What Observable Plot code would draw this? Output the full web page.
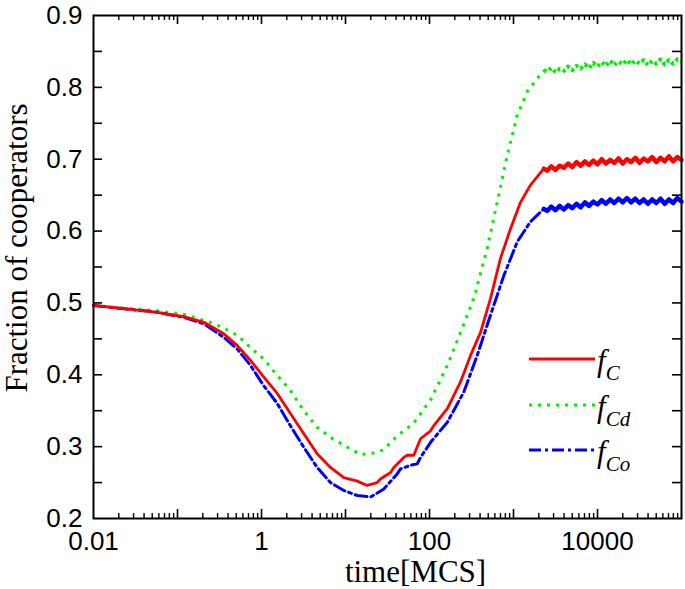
<!DOCTYPE html>
<html>
<head>
<meta charset="utf-8">
<script src="https://cdn.jsdelivr.net/npm/d3@7"></script>
<script src="https://cdn.jsdelivr.net/npm/@observablehq/plot@0.6"></script>
<style>
  html, body { margin: 0; padding: 0; background: #fff; }
  #wrap { position: relative; width: 685px; height: 589px; overflow: hidden; }
  #legend { position: absolute; left: 0; top: 0; pointer-events: none; }
</style>
</head>
<body>
<div id="wrap"></div>
<script>
// ---- data ----
// early parts of each series (time in MCS, fraction)
const tC  = [0.01, 0.0229, 0.0575, 0.119, 0.206, 0.356, 0.514, 0.74, 1.06, 1.54, 2.21, 3.19, 4.6, 6.62, 9.55, 13.8, 18.1, 23.8, 26.1, 34.4, 37.6, 49.4, 54.3, 65, 78.2, 103, 112, 163, 234, 308, 405, 532, 700, 920, 1211, 1592, 2296];
const fC  = [0.4965, 0.492, 0.487, 0.481, 0.473, 0.457, 0.441, 0.420, 0.397, 0.374, 0.346, 0.318, 0.290, 0.271, 0.257, 0.252, 0.246, 0.250, 0.255, 0.264, 0.271, 0.285, 0.288, 0.288, 0.311, 0.322, 0.329, 0.353, 0.390, 0.427, 0.459, 0.506, 0.562, 0.603, 0.640, 0.664, 0.687];

const tCd = [0.01, 0.0575, 0.119, 0.247, 0.356, 0.514, 0.74, 1.06, 1.54, 2.21, 3.19, 4.6, 6.62, 9.55, 15.1, 21.7, 28.6, 41.2, 65, 103, 163, 234, 337, 486, 640, 841, 1107, 1455, 2296];
const fCd = [0.4965, 0.489, 0.484, 0.473, 0.465, 0.455, 0.438, 0.422, 0.399, 0.378, 0.350, 0.327, 0.313, 0.302, 0.289, 0.291, 0.296, 0.315, 0.333, 0.365, 0.413, 0.459, 0.506, 0.576, 0.640, 0.705, 0.761, 0.794, 0.824];

const tCo = [0.01, 0.0229, 0.0575, 0.119, 0.206, 0.356, 0.514, 0.74, 1.06, 1.54, 2.21, 3.19, 4.6, 6.62, 9.55, 13.8, 19.9, 28.6, 41.2, 45.2, 59.4, 71.4, 78.2, 103, 163, 256, 370, 532, 767, 1107, 1592, 2296];
const fCo = [0.4965, 0.492, 0.487, 0.480, 0.471, 0.452, 0.436, 0.413, 0.385, 0.360, 0.329, 0.299, 0.271, 0.250, 0.239, 0.232, 0.230, 0.241, 0.262, 0.269, 0.274, 0.276, 0.285, 0.306, 0.334, 0.376, 0.427, 0.483, 0.538, 0.585, 0.613, 0.631];

// late (noisy plateau) parts, shared time grid
const tLate = [2512, 2818, 3162, 3548, 3981, 4467, 5012, 5623, 6310, 7079, 7943, 8913, 10000, 11220, 12589, 14125, 15849, 17783, 19953, 22387, 25119, 28184, 31623, 35481, 39811, 44668, 50119, 56234, 63096, 70795, 79433, 89125, 100000];
const fCLate  = [0.684, 0.690, 0.685, 0.691, 0.688, 0.694, 0.689, 0.696, 0.691, 0.697, 0.692, 0.698, 0.693, 0.700, 0.694, 0.699, 0.695, 0.701, 0.694, 0.700, 0.696, 0.702, 0.695, 0.701, 0.697, 0.703, 0.696, 0.702, 0.697, 0.704, 0.697, 0.703, 0.699];
const fCdLate = [0.822, 0.827, 0.821, 0.826, 0.823, 0.829, 0.824, 0.830, 0.826, 0.832, 0.827, 0.834, 0.829, 0.835, 0.830, 0.837, 0.831, 0.836, 0.832, 0.838, 0.832, 0.837, 0.833, 0.838, 0.831, 0.837, 0.833, 0.839, 0.832, 0.838, 0.833, 0.839, 0.836];
const fCoLate = [0.628, 0.634, 0.629, 0.635, 0.630, 0.636, 0.632, 0.638, 0.633, 0.640, 0.635, 0.641, 0.637, 0.643, 0.638, 0.644, 0.639, 0.645, 0.640, 0.646, 0.640, 0.645, 0.639, 0.644, 0.638, 0.644, 0.639, 0.645, 0.638, 0.644, 0.639, 0.646, 0.641];

// axis ticks
const xLabelTicks = [0.01, 1, 100, 10000];
const xLabelText = ["0.01", "1", "100", "10000"];
const yLabelTicks = [0.2, 0.3, 0.4, 0.5, 0.6, 0.7, 0.8, 0.9];
const yTickMarks = [0.25, 0.3, 0.35, 0.4, 0.45, 0.5, 0.55, 0.6, 0.65, 0.7, 0.75, 0.8, 0.85];
const xMajor = [0.1, 1, 10, 100, 1000, 10000];
const xMinorMult = [2, 3, 4, 5, 6, 7, 8, 9];
const decades = [0.01, 0.1, 1, 10, 100, 1000, 10000];

// legend
const seriesNames = ["C", "Cd", "Co"];
const seriesColors = ["#ff0000", "#00ee00", "#0000ff"];
const seriesDash = [null, "3 6", "12 4 3 4"];

// ---- build tables ----
const mk = (ts, vs) => ts.map((t, i) => ({t, v: vs[i]}));
const earlyC = mk(tC, fC), earlyCd = mk(tCd, fCd), earlyCo = mk(tCo, fCo);
// plateau parts start from the last early point so the lines join
const lateC  = [earlyC[earlyC.length - 1]].concat(mk(tLate, fCLate));
const lateCd = [earlyCd[earlyCd.length - 1]].concat(mk(tLate, fCdLate));
const lateCo = [earlyCo[earlyCo.length - 1]].concat(mk(tLate, fCoLate));
const xMinor = decades.flatMap(d => xMinorMult.map(m => d * m));

const W = 685, H = 589;
const mL = 93, mR = 4, mT = 15, mB = 71;
const fw = W - mL - mR, fh = H - mT - mB;

const chart = Plot.plot({
  width: W, height: H,
  marginLeft: mL, marginRight: mR, marginTop: mT, marginBottom: mB,
  x: {type: "log", domain: [0.01, 100000]},
  y: {domain: [0.2, 0.9]},
  style: {fontFamily: "'Liberation Sans', Arial, sans-serif", fontSize: "26px", background: "#fff", color: "#000"},
  marks: [
    Plot.axisX({ticks: xLabelTicks, tickSize: 0, tickPadding: 13, label: null,
      tickFormat: d => xLabelText[xLabelTicks.indexOf(d)], fontSize: 26}),
    Plot.axisY({ticks: yLabelTicks, tickSize: 0, tickPadding: 11, label: null,
      tickFormat: d => d.toFixed(1), fontSize: 26}),
    // inward ticks
    Plot.tickX(xMajor, {x: d => d, insetTop: fh - 9, stroke: "#000", strokeWidth: 1.6}),
    Plot.tickX(xMajor, {x: d => d, insetBottom: fh - 9, stroke: "#000", strokeWidth: 1.6}),
    Plot.tickX(xMinor, {x: d => d, insetTop: fh - 5, stroke: "#000", strokeWidth: 1.4}),
    Plot.tickX(xMinor, {x: d => d, insetBottom: fh - 5, stroke: "#000", strokeWidth: 1.4}),
    Plot.tickY(yTickMarks, {y: d => d, insetRight: fw - 9, stroke: "#000", strokeWidth: 1.6}),
    Plot.tickY(yTickMarks, {y: d => d, insetLeft: fw - 9, stroke: "#000", strokeWidth: 1.6}),
    // series
    Plot.line(earlyCd, {x: "t", y: "v", stroke: seriesColors[1], strokeWidth: 3, strokeDasharray: seriesDash[1], strokeLinecap: "butt"}),
    Plot.line(lateCd,  {x: "t", y: "v", stroke: seriesColors[1], strokeWidth: 4, strokeDasharray: "3 3", strokeLinecap: "butt"}),
    Plot.line(earlyCo, {x: "t", y: "v", stroke: seriesColors[2], strokeWidth: 3, strokeDasharray: seriesDash[2]}),
    Plot.line(lateCo,  {x: "t", y: "v", stroke: seriesColors[2], strokeWidth: 4.5}),
    Plot.line(earlyC,  {x: "t", y: "v", stroke: seriesColors[0], strokeWidth: 2.8}),
    Plot.line(lateC,   {x: "t", y: "v", stroke: seriesColors[0], strokeWidth: 4.5}),
    Plot.frame({stroke: "#000", strokeWidth: 2}),
    // axis titles
    Plot.text(["time[MCS]"], {frameAnchor: "bottom", dx: 28, dy: 54, lineAnchor: "middle", textAnchor: "middle",
      fontFamily: "'Liberation Serif', 'Times New Roman', serif", fontSize: 31, fill: "#000"}),
    Plot.text(["Fraction of cooperators"], {frameAnchor: "left", dx: -76, dy: -19, rotate: -90, lineAnchor: "middle", textAnchor: "middle",
      fontFamily: "'Liberation Serif', 'Times New Roman', serif", fontSize: 31, fill: "#000"})
  ]
});

const wrap = document.getElementById("wrap");
wrap.appendChild(chart);

// legend overlay
const ns = "http://www.w3.org/2000/svg";
const lg = document.createElementNS(ns, "svg");
lg.setAttribute("id", "legend");
lg.setAttribute("width", W);
lg.setAttribute("height", H);
const rowY = [359, 405, 450];
seriesNames.forEach((name, i) => {
  const y = rowY[i];
  const line = document.createElementNS(ns, "line");
  line.setAttribute("x1", 529); line.setAttribute("x2", 595);
  line.setAttribute("y1", y); line.setAttribute("y2", y);
  line.setAttribute("stroke", seriesColors[i]);
  line.setAttribute("stroke-width", i === 0 ? 2.8 : 3);
  if (seriesDash[i]) line.setAttribute("stroke-dasharray", seriesDash[i]);
  lg.appendChild(line);
  const tx = document.createElementNS(ns, "text");
  tx.setAttribute("x", 597);
  tx.setAttribute("y", y + 12);
  tx.setAttribute("font-family", "'Liberation Serif', 'Times New Roman', serif");
  tx.setAttribute("font-style", "italic");
  tx.setAttribute("font-size", 31);
  tx.textContent = "f";
  const sub = document.createElementNS(ns, "tspan");
  sub.setAttribute("font-size", 21);
  sub.setAttribute("dy", 9);
  sub.textContent = name;
  tx.appendChild(sub);
  lg.appendChild(tx);
});
wrap.appendChild(lg);
</script>
</body>
</html>
